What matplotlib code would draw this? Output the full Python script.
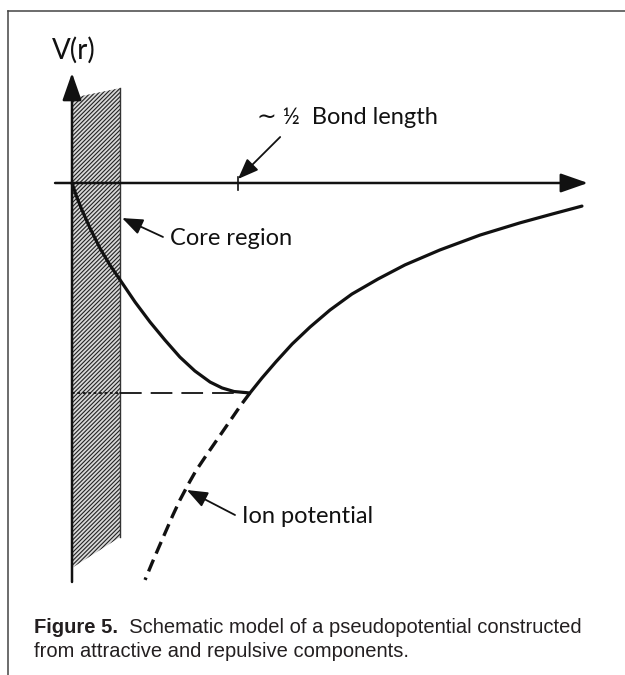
# Schematic pseudopotential V(r): core region, ion potential, pseudopotential
import matplotlib
matplotlib.use("Agg")
import matplotlib.pyplot as plt
from matplotlib.patches import Polygon
from matplotlib.lines import Line2D

# r in units of bond length, V in units of the pseudopotential minimum depth
pseudo_r = [0.000, 0.012, 0.030, 0.054, 0.084, 0.114, 0.145, 0.190, 0.235, 0.280,
            0.325, 0.370, 0.416, 0.452, 0.488, 0.536, 0.572, 0.614, 0.663, 0.717,
            0.777, 0.843, 0.922, 1.003, 1.108, 1.229, 1.349, 1.446, 1.536]
pseudo_v = [0.000, -0.057, -0.129, -0.214, -0.310, -0.390, -0.462, -0.567, -0.662, -0.748,
            -0.829, -0.895, -0.948, -0.976, -0.993, -1.000, -0.929, -0.852, -0.767, -0.686,
            -0.605, -0.529, -0.457, -0.390, -0.319, -0.248, -0.190, -0.148, -0.110]

ion_r = [0.536, 0.509, 0.482, 0.455, 0.428, 0.401, 0.373, 0.349, 0.325, 0.304,
         0.283, 0.262, 0.241, 0.220]
ion_v = [-1.000, -1.057, -1.119, -1.181, -1.243, -1.305, -1.371, -1.438, -1.510, -1.581,
         -1.657, -1.733, -1.810, -1.890]

core_r = [0.0, 0.145, 0.145, 0.0]
core_v = [0.405, 0.452, -1.686, -1.833]

half_bond = 0.5
v_min = -1.0
r_min = 0.536

LABEL_FONT = ["Lato", "DejaVu Sans"]
INK = "#111111"


def main():
    plt.rcParams["hatch.linewidth"] = 0.8
    fig = plt.figure(figsize=(6.25, 6.75), dpi=100)
    ax = fig.add_axes([0, 0, 1, 1])
    ax.set_xlim(-0.2169, 1.6657)
    ax.set_ylim(-2.3429, 0.8714)
    ax.axis("off")

    # core region (hatched)
    ax.add_patch(Polygon(list(zip(core_r, core_v)), closed=True, facecolor="#d8d8d8",
                         edgecolor="#222222", hatch="////////", lw=0, zorder=1))
    ax.plot([core_r[1], core_r[2]], [core_v[1], core_v[2]], color="#333333", lw=1.0, zorder=2)

    # axes with arrows
    arrow = dict(arrowstyle="-|>,head_length=1.2,head_width=0.42", lw=1.8, color=INK,
                 shrinkA=0, shrinkB=0, mutation_scale=14)
    ax.annotate("", xy=(0, 0.524), xytext=(0, -1.90), arrowprops=arrow, zorder=3)
    ax.annotate("", xy=(1.554, 0), xytext=(-0.051, 0), arrowprops=arrow, zorder=3)
    ax.plot([half_bond, half_bond], [0.029, -0.033], color=INK, lw=1.2, zorder=3)

    # reference level of the minimum
    ax.plot([0, core_r[1]], [v_min, v_min], color=INK, lw=1.3, ls=(0, (1.5, 1.5)), zorder=3)
    ax.plot([core_r[1], r_min], [v_min, v_min], color=INK, lw=1.3, ls=(0, (12, 5)), zorder=3)

    # pseudopotential and ion potential
    ax.plot(pseudo_r, pseudo_v, color=INK, lw=2.3, solid_capstyle="round",
            solid_joinstyle="round", zorder=4)
    ax.plot(ion_r, ion_v, color=INK, lw=2.4, ls=(0, (3.8, 2.0)), zorder=4)

    # labels
    ax.text(0.006, 0.633, "V(r)", family=LABEL_FONT, fontsize=20, color=INK,
            ha="center", va="center")
    small = dict(arrowstyle="-|>,head_length=0.9,head_width=0.35", lw=1.3, color=INK,
                 shrinkA=0, shrinkB=0, mutation_scale=14)
    ax.annotate("", xy=(0.500, 0.019), xytext=(0.627, 0.219), arrowprops=small, zorder=5)
    ax.text(0.557, 0.310, "\u223c \u00bd  Bond length", family=LABEL_FONT, fontsize=17,
            color=INK, ha="left", va="center")
    ax.annotate("", xy=(0.151, -0.167), xytext=(0.274, -0.257), arrowprops=small, zorder=5)
    ax.text(0.295, -0.262, "Core region", family=LABEL_FONT, fontsize=17, color=INK,
            ha="left", va="center")
    ax.annotate("", xy=(0.346, -1.462), xytext=(0.491, -1.581), arrowprops=small, zorder=5)
    ax.text(0.512, -1.590, "Ion potential", family=LABEL_FONT, fontsize=17, color=INK,
            ha="left", va="center")

    # caption
    cap = dict(family="Liberation Sans", fontsize=14.5, color="#231f20", va="baseline")
    t = fig.text(0.0544, 0.0622, "Figure 5.", weight="bold", **cap)
    ax.annotate("  Schematic model of a pseudopotential constructed", xy=(1, 0),
                xycoords=t, va="bottom", ha="left", family="Liberation Sans",
                fontsize=14.5, color="#231f20")
    fig.text(0.0544, 0.0267, "from attractive and repulsive components.", **cap)

    # frame (top and left edges of the panel)
    fig.add_artist(Line2D([0.0128, 1.0], [0.9837, 0.9837], transform=fig.transFigure,
                          color="#444444", lw=1.1))
    fig.add_artist(Line2D([0.0128, 0.0128], [0.0, 0.9837], transform=fig.transFigure,
                          color="#444444", lw=1.1))

    fig.savefig("out.png", dpi=100)
    plt.close(fig)


if __name__ == "__main__":
    main()
